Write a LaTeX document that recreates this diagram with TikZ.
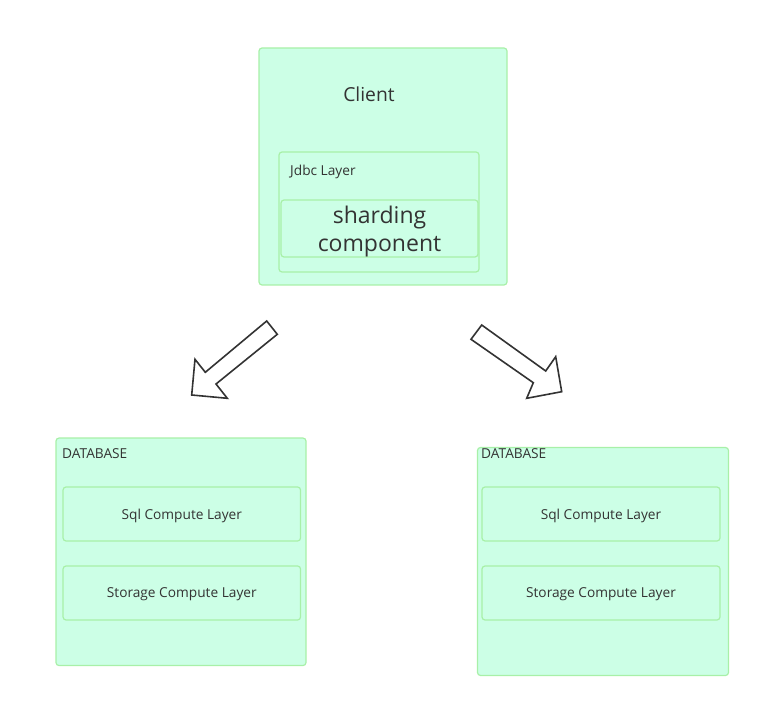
\documentclass[tikz,border=0pt]{standalone}
\usepackage{fontspec}
\setmainfont{Open Sans}
\definecolor{cajaverde}{RGB}{204,255,230}
\definecolor{bordeverde}{RGB}{168,240,168}
\definecolor{texto}{RGB}{51,51,51}
\tikzset{
	caja/.style={draw=bordeverde, fill=cajaverde, line width=1.2pt, rounded corners=3pt, inner sep=0pt, text depth=0pt, text=texto, font=\fontsize{13.7}{15}\selectfont},
	etiqueta/.style={text=texto, font=\fontsize{13.7}{15}\selectfont, inner sep=0pt},
	flecha/.style={draw=texto, fill=white, line width=1.6pt, line join=miter},
}
\begin{document}
\begin{tikzpicture}[x=1pt, y=-1pt]
	\useasboundingbox (0,0) rectangle (760,708);
	% Cliente
		% Cajas
			\node[caja, minimum width=248pt, minimum height=237pt] (client) at (383,166.5) {};
			\node[caja, minimum width=200pt, minimum height=120pt] (jdbc) at (379,212) {};
			\node[caja, minimum width=197pt, minimum height=57pt, align=center, font=\fontsize{23}{28}\selectfont] (sharding) at (379.5,228.5) {sharding\\component};
		% Etiquetas
			\node[etiqueta, font=\fontsize{19.3}{22}\selectfont] (clientlbl) at (369,94) {Client};
			\node[etiqueta, anchor=west] (jdbclbl) at (290,171.5) {Jdbc Layer};

	% Flechas
		% Izquierda
			\draw[flecha] (266.7,321) -- (205.3,372.3) -- (195,359.3) -- (191.7,395) -- (227.3,398.3) -- (216,384) -- (277.3,334.3) -- cycle;
		% Derecha
			\draw[flecha] (481.7,325) -- (545.7,371) -- (555.7,356.7) -- (561.7,391.7) -- (526.7,398.3) -- (533.3,382.7) -- (471,339.3) -- cycle;

	% Base de datos A
		\node[caja, minimum width=250pt, minimum height=227.5pt] (dbA) at (181,551.8) {};
		\node[etiqueta, anchor=west] (dbAlbl) at (62,454) {DATABASE};
		\node[caja, minimum width=237.5pt, minimum height=54pt] (sqlA) at (181.8,514) {Sql Compute Layer};
		\node[caja, minimum width=237.5pt, minimum height=54pt] (storageA) at (181.8,593) {Storage Compute Layer};

	% Base de datos B
		\node[caja, minimum width=251pt, minimum height=228pt] (dbB) at (603,561.5) {};
		\node[etiqueta, anchor=west] (dbBlbl) at (481,454) {DATABASE};
		\node[caja, minimum width=238pt, minimum height=54pt] (sqlB) at (601,514) {Sql Compute Layer};
		\node[caja, minimum width=238pt, minimum height=54pt] (storageB) at (601,593) {Storage Compute Layer};
\end{tikzpicture}
\end{document}
